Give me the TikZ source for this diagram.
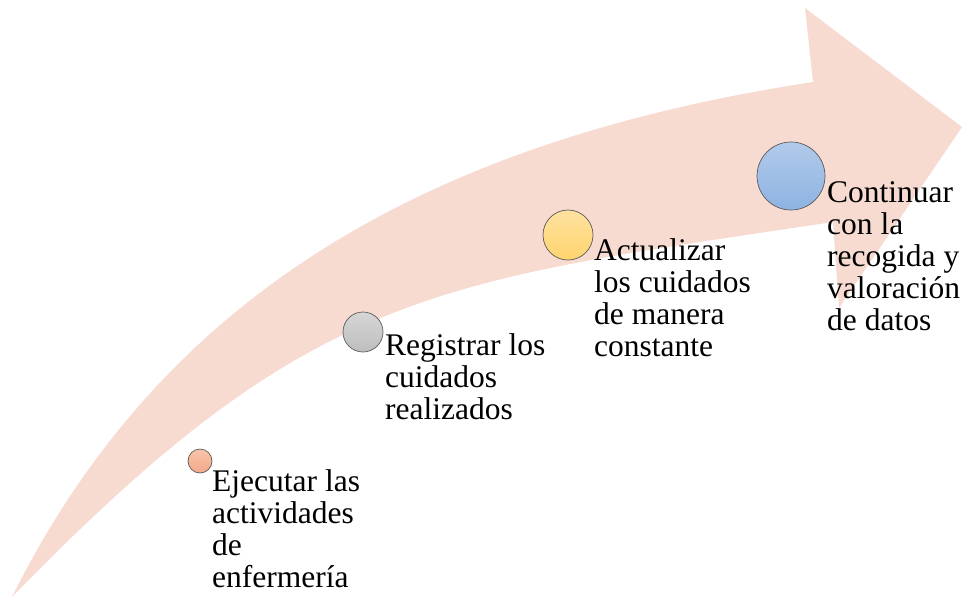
\documentclass[tikz,border=0pt]{standalone}
\usepackage{fontspec}
\setmainfont{Liberation Serif}
\newfontfamily\tnrfont{Liberation Serif}
\begin{document}
\begin{tikzpicture}[x=1pt,y=-1pt,
  bigarrow/.style={fill={rgb,255:red,247;green,218;blue,208}, draw=none},
  dot/.style={circle, draw={rgb,255:red,90;green,90;blue,90}, line width=0.7pt, inner sep=0pt},
  lbl/.style={anchor=base west, align=left, inner sep=0pt, font=\tnrfont\fontsize{31.5}{32}\selectfont}]
\useasboundingbox (0,0) rectangle (967,598);
% arrow body
\path[bigarrow] (12,597) .. controls (160,300) and (420,142) .. (813,82)
  -- (805,8) -- (962,127) -- (839,308) -- (833,222)
  .. controls (433,282) and (312,288) .. (12,597) -- cycle;
% circles
\node[dot, minimum size=24pt, top color={rgb,255:red,248;green,196;blue,170}, bottom color={rgb,255:red,244;green,168;blue,138}] (c1) at (200,461) {};
\node[dot, minimum size=40pt, top color={rgb,255:red,214;green,214;blue,214}, bottom color={rgb,255:red,190;green,190;blue,190}] (c2) at (363,332) {};
\node[dot, minimum size=50pt, top color={rgb,255:red,255;green,226;blue,160}, bottom color={rgb,255:red,255;green,212;blue,110}] (c3) at (568,235) {};
\node[dot, minimum size=68pt, top color={rgb,255:red,178;green,202;blue,234}, bottom color={rgb,255:red,141;green,179;blue,226}] (c4) at (791,176) {};
% labels (anchor = baseline of last line)
\node[lbl] (l1) at (212,587) {Ejecutar las\\actividades\\de\\enfermería};
\node[lbl] (l2) at (385,419) {Registrar los\\cuidados\\realizados};
\node[lbl] (l3) at (594,356) {Actualizar\\los cuidados\\de manera\\constante};
\node[lbl] (l4) at (827,330) {Continuar\\con la\\recogida y\\valoración\\de datos};
\end{tikzpicture}
\end{document}
